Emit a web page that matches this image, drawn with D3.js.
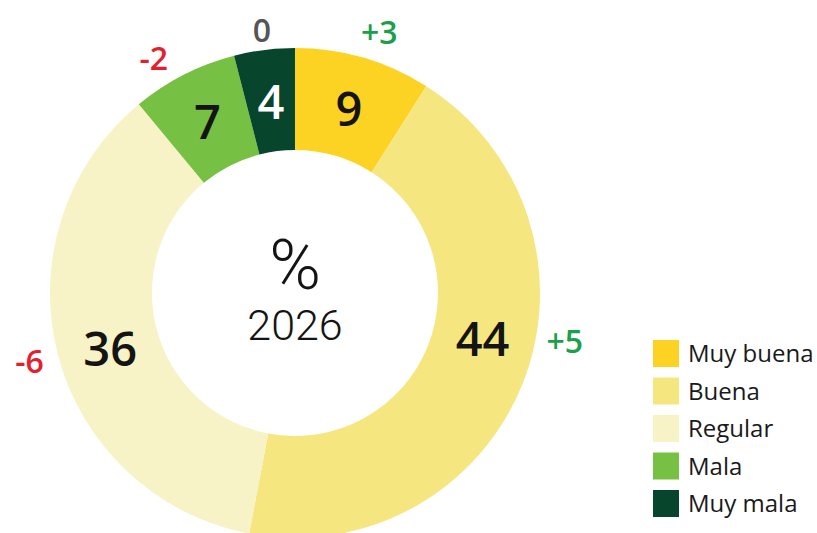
<!DOCTYPE html>
<html>
<head>
<meta charset="utf-8">
<script src="https://cdn.jsdelivr.net/npm/d3@7"></script>
<style>
  html, body { margin: 0; padding: 0; background: #fff; }
  svg { display: block; }
</style>
</head>
<body>
<div id="chart"></div>
<script>
// data
var categories = ["Muy buena", "Buena", "Regular", "Mala", "Muy mala"];
var values = [9, 44, 36, 7, 4];
var changes = [3, 5, -6, -2, 0];
var colors = ["#fdd323", "#f5e680", "#f7f3c6", "#76c043", "#07452d"];
var centerTop = "%";
var centerYear = "2026";

var w = 817, h = 533,
    cx = 295, cy = 293,
    outerR = 245, innerR = 143;

// labels that sit off the slice middle in the original
var valueTurn = { "Buena": -0.14, "Regular": -0.04 };
var changeTurn = { "Buena": -0.2, "Mala": -0.07, "Muy buena": 0.03 };
var changeR = { "Muy mala": 265 };

var svg = d3.select("#chart").append("svg")
    .attr("width", w)
    .attr("height", h);

var g = svg.append("g")
    .attr("transform", "translate(" + cx + "," + cy + ")");

var rows = categories.map(function(c, i) {
  return { name: c, value: values[i], change: changes[i], color: colors[i] };
});

var pie = d3.pie()
    .sort(null)
    .value(function(d) { return d.value; });

var arc = d3.arc()
    .innerRadius(innerR)
    .outerRadius(outerR);

var slices = pie(rows);

g.selectAll("path.slice")
    .data(slices)
    .enter()
    .append("path")
    .attr("class", "slice")
    .attr("d", arc)
    .style("fill", function(d) { return d.data.color; });

function midAngle(d, turn) {
  return (d.startAngle + d.endAngle) / 2 + (turn[d.data.name] || 0);
}

function polar(a, r) {
  return [Math.sin(a) * r, -Math.cos(a) * r];
}

// values inside the ring
g.selectAll("text.value")
    .data(slices)
    .enter()
    .append("text")
    .attr("class", "value")
    .attr("x", function(d) { return polar(midAngle(d, valueTurn), 193)[0]; })
    .attr("y", function(d) { return polar(midAngle(d, valueTurn), 193)[1]; })
    .attr("dy", "0.38em")
    .attr("text-anchor", "middle")
    .style("font-family", "'Open Sans', sans-serif")
    .style("font-size", "47px")
    .style("font-weight", 600)
    .style("fill", function(d) { return d.data.name === "Muy mala" ? "#ffffff" : "#141414"; })
    .text(function(d) { return d.data.value; });

// change vs previous, outside the ring
function changePos(d) {
  return polar(midAngle(d, changeTurn), changeR[d.data.name] || 274);
}

g.selectAll("text.change")
    .data(slices)
    .enter()
    .append("text")
    .attr("class", "change")
    .attr("x", function(d) { return changePos(d)[0]; })
    .attr("y", function(d) { return changePos(d)[1]; })
    .attr("dy", "0.36em")
    .attr("text-anchor", "middle")
    .style("font-family", "'Open Sans', sans-serif")
    .style("font-size", "32px")
    .style("font-weight", 600)
    .style("fill", function(d) {
      if (d.data.change > 0) return "#1c9f4b";
      if (d.data.change < 0) return "#e5202e";
      return "#555555";
    })
    .text(function(d) {
      return d.data.change > 0 ? "+" + d.data.change : String(d.data.change);
    });

// center text
g.append("text")
    .attr("x", 0)
    .attr("y", -4)
    .attr("text-anchor", "middle")
    .style("font-family", "Roboto, sans-serif")
    .style("font-size", "70px")
    .style("font-weight", 300)
    .style("fill", "#141414")
    .text(centerTop);

g.append("text")
    .attr("x", 0)
    .attr("y", 47)
    .attr("text-anchor", "middle")
    .style("font-family", "Roboto, sans-serif")
    .style("font-size", "43px")
    .style("font-weight", 300)
    .style("fill", "#141414")
    .text(centerYear);

// legend
var legend = svg.append("g")
    .attr("transform", "translate(653,340)");

var item = legend.selectAll("g.item")
    .data(rows)
    .enter()
    .append("g")
    .attr("class", "item")
    .attr("transform", function(d, i) { return "translate(0," + (i * 37.5) + ")"; });

item.append("rect")
    .attr("width", 26)
    .attr("height", 27)
    .style("fill", function(d) { return d.color; });

item.append("text")
    .attr("x", 35)
    .attr("y", 13.5)
    .attr("dy", "0.36em")
    .style("font-family", "'Open Sans', sans-serif")
    .style("font-size", "24px")
    .style("font-weight", 500)
    .style("fill", "#1a1a1a")
    .text(function(d) { return d.name; });
</script>
</body>
</html>
